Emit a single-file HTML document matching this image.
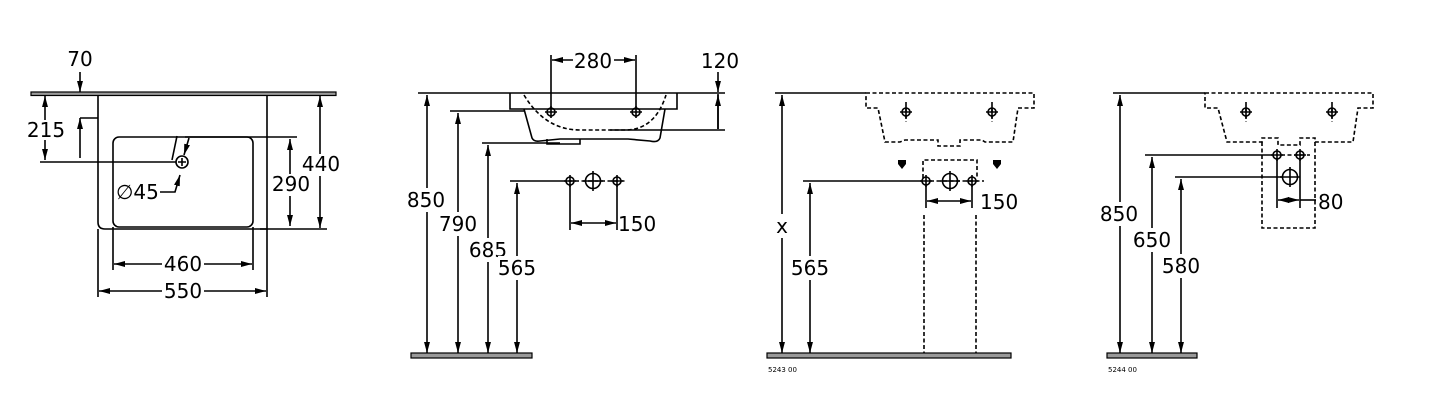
<!DOCTYPE html>
<html><head><meta charset="utf-8"><style>
html,body{margin:0;padding:0;background:#fff}
svg{display:block}
text{font-family:"DejaVu Sans","Liberation Sans",sans-serif;font-size:20px;fill:#000}
.s{fill:none;stroke:#000;stroke-width:1.6}
.d{fill:none;stroke:#000;stroke-width:1.6;stroke-dasharray:4 2.5}
.f{fill:#999;stroke:#000;stroke-width:1.2}
</style></head><body>
<svg width="1430" height="403" viewBox="0 0 1430 403" xmlns="http://www.w3.org/2000/svg">
<defs>
<marker id="a" viewBox="0 0 10 10" refX="10" refY="5" markerWidth="11" markerHeight="11" markerUnits="userSpaceOnUse" orient="auto-start-reverse"><path d="M0,2.3 L10,5 L0,7.7 z" fill="#000"/></marker>
<g id="hs"><circle r="4" class="s"/><path d="M-6,0H6M0,-6V6" class="s"/></g>
<g id="hb"><circle r="7.5" class="s"/><path d="M-10,0H10M0,-10V10" class="s"/></g>
</defs>

<!-- VIEW 1 -->
<rect x="31" y="92" width="305" height="3.5" class="f"/>
<path d="M98,95V222Q98,229 105,229H267V95" class="s"/>
<rect x="113" y="137" width="140" height="90" rx="6" class="s"/>
<path d="M80,72V92" class="s" marker-end="url(#a)"/>
<path d="M80,158V118" class="s" marker-end="url(#a)"/>
<path d="M80,118H98" class="s"/>
<text x="80" y="66" text-anchor="middle">70</text>
<path d="M45,96V160" class="s" marker-start="url(#a)" marker-end="url(#a)"/>
<rect x="28" y="120" width="36" height="20" fill="#fff"/>
<text x="46" y="137" text-anchor="middle">215</text>
<path d="M40,162H176" class="s"/>
<circle cx="182" cy="162" r="6" class="s"/>
<path d="M178,162H186M182,158V166" class="s"/>
<path d="M177,136L172,160" class="s"/>
<path d="M189,138L184,155" class="s" marker-end="url(#a)"/>
<path d="M160,192H175L180,175" class="s" marker-end="url(#a)"/>
<text x="116" y="199">∅45</text>
<path d="M185,137H297M260,229H327" class="s"/>
<path d="M290,139V226" class="s" marker-start="url(#a)" marker-end="url(#a)"/>
<rect x="271" y="174" width="40" height="22" fill="#fff"/>
<text x="291" y="191" text-anchor="middle">290</text>
<path d="M320,96V228" class="s" marker-start="url(#a)" marker-end="url(#a)"/>
<rect x="301" y="154" width="40" height="22" fill="#fff"/>
<text x="321" y="171" text-anchor="middle">440</text>
<path d="M113,227V270M253,227V270M98,229V297M267,229V297" class="s"/>
<path d="M162,264H114" class="s" marker-end="url(#a)"/>
<path d="M204,264H252" class="s" marker-end="url(#a)"/>
<text x="183" y="271" text-anchor="middle">460</text>
<path d="M162,291H99" class="s" marker-end="url(#a)"/>
<path d="M204,291H266" class="s" marker-end="url(#a)"/>
<text x="183" y="298" text-anchor="middle">550</text>

<!-- VIEW 2 -->
<path d="M418,93H725" class="s"/>
<path d="M510,93V109H677V93" class="s"/>
<path d="M524,109L532,138Q534,142 540,141L560,139H628L650,141Q658,143 660,138L665,109" class="s"/>
<path d="M547,139V144H580V139" class="s"/>
<path d="M524,95Q545,130 580,130H625Q655,130 666,95" class="d"/>
<use href="#hs" x="551" y="112"/><use href="#hs" x="636" y="112"/>
<path d="M551,55V108M636,55V108" class="s"/>
<path d="M573,60H552" class="s" marker-end="url(#a)"/>
<path d="M614,60H635" class="s" marker-end="url(#a)"/>
<text x="593" y="68" text-anchor="middle">280</text>
<text x="720" y="68" text-anchor="middle">120</text>
<path d="M718,72V92" class="s" marker-end="url(#a)"/>
<path d="M718,129V95" class="s" marker-end="url(#a)"/>
<path d="M718,94V129" class="s"/>
<path d="M610,130H725" class="s"/>
<path d="M427,95V353" class="s" marker-start="url(#a)" marker-end="url(#a)"/>
<rect x="407" y="188" width="38" height="24" fill="#fff"/>
<text x="426" y="207" text-anchor="middle">850</text>
<path d="M450,111H524" class="s"/>
<path d="M458,113V353" class="s" marker-start="url(#a)" marker-end="url(#a)"/>
<rect x="439" y="212" width="38" height="24" fill="#fff"/>
<text x="458" y="231" text-anchor="middle">790</text>
<path d="M482,143H560" class="s"/>
<path d="M488,145V353" class="s" marker-start="url(#a)" marker-end="url(#a)"/>
<rect x="469" y="238" width="38" height="24" fill="#fff"/>
<text x="488" y="257" text-anchor="middle">685</text>
<path d="M510,181H562" class="s"/>
<path d="M517,183V353" class="s" marker-start="url(#a)" marker-end="url(#a)"/>
<rect x="498" y="256" width="38" height="24" fill="#fff"/>
<text x="517" y="275" text-anchor="middle">565</text>
<path d="M562,181H626" class="d"/>
<use href="#hs" x="570" y="181"/><use href="#hb" x="593" y="181"/><use href="#hs" x="617" y="181"/>
<path d="M570,185V230M617,185V230" class="s"/>
<path d="M571,223H616" class="s" marker-start="url(#a)" marker-end="url(#a)"/>
<text x="618" y="231">150</text>
<rect x="411" y="353" width="121" height="5" class="f"/>

<!-- VIEW 3 -->
<path d="M775,93H866" class="s"/>
<path d="M866,93H1034V108H1018L1013,142H985L982,140H960V146H938V140H905L900,142H885L878,108H866Z" class="d"/>
<use href="#hs" x="906" y="112"/><use href="#hs" x="992" y="112"/>
<path d="M906,102V122M992,102V122" class="d"/>
<path d="M898,160H906V164L902,169L898,164Z" fill="#000"/>
<path d="M993,160H1001V164L997,169L993,164Z" fill="#000"/>
<path d="M923,178V160H977V178" class="d"/>
<path d="M803,181H922" class="s"/>
<path d="M930,181H984" class="d"/>
<use href="#hs" x="926" y="181"/><use href="#hb" x="950" y="181"/><use href="#hs" x="972" y="181"/>
<path d="M926,185V208M972,185V208" class="s"/>
<path d="M927,201H971" class="s" marker-start="url(#a)" marker-end="url(#a)"/>
<text x="980" y="209">150</text>
<path d="M924,215V355M976,215V355" class="d"/>
<path d="M782,95V353" class="s" marker-start="url(#a)" marker-end="url(#a)"/>
<rect x="772" y="214" width="20" height="24" fill="#fff"/>
<text x="782" y="233" text-anchor="middle">x</text>
<path d="M810,183V353" class="s" marker-start="url(#a)" marker-end="url(#a)"/>
<rect x="791" y="256" width="38" height="24" fill="#fff"/>
<text x="810" y="275" text-anchor="middle">565</text>
<rect x="767" y="353" width="244" height="5" class="f"/>
<text x="768" y="372" style="font-size:7px">5243 00</text>

<!-- VIEW 4 -->
<path d="M1113,93H1205" class="s"/>
<path d="M1205,93H1373V108H1358L1353,142H1315V138H1300V145H1278V138H1262V142H1227L1218,108H1205Z" class="d"/>
<path d="M1262,142V228H1315V142" class="d"/>
<use href="#hs" x="1246" y="112"/><use href="#hs" x="1332" y="112"/>
<path d="M1246,102V122M1332,102V122" class="d"/>
<path d="M1145,155H1273" class="s"/>
<path d="M1281,155H1310" class="d"/>
<use href="#hs" x="1277" y="155"/><use href="#hs" x="1300" y="155"/>
<path d="M1175,177H1282" class="s"/>
<use href="#hb" x="1290" y="177"/>
<path d="M1277,159V208M1300,159V208" class="s"/>
<path d="M1278,200H1299" class="s" marker-start="url(#a)" marker-end="url(#a)"/>
<path d="M1300,200H1316" class="s"/>
<text x="1318" y="209">80</text>
<path d="M1120,95V353" class="s" marker-start="url(#a)" marker-end="url(#a)"/>
<rect x="1100" y="202" width="38" height="24" fill="#fff"/>
<text x="1119" y="221" text-anchor="middle">850</text>
<path d="M1152,157V353" class="s" marker-start="url(#a)" marker-end="url(#a)"/>
<rect x="1133" y="228" width="38" height="24" fill="#fff"/>
<text x="1152" y="247" text-anchor="middle">650</text>
<path d="M1181,179V353" class="s" marker-start="url(#a)" marker-end="url(#a)"/>
<rect x="1162" y="254" width="38" height="24" fill="#fff"/>
<text x="1181" y="273" text-anchor="middle">580</text>
<rect x="1107" y="353" width="90" height="5" class="f"/>
<text x="1108" y="372" style="font-size:7px">5244 00</text>
</svg>
</body></html>
